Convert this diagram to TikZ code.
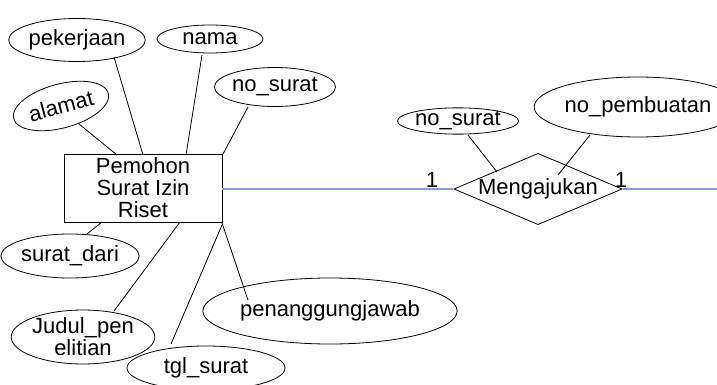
\documentclass[tikz,border=0pt]{standalone}
\usepackage{fontspec}
\setmainfont{Liberation Sans}
\usetikzlibrary{shapes.geometric}
\definecolor{relblue}{RGB}{130,160,215}
\tikzset{
  attr/.style={draw, ellipse, line width=0.8pt, inner sep=0pt, align=center,
    font=\fontsize{22}{22}\selectfont},
  ent/.style={draw, rectangle, line width=0.8pt, inner sep=0pt, align=center,
    minimum width=158pt, minimum height=68pt, font=\fontsize{22}{22}\selectfont},
  rel/.style={draw, diamond, line width=0.8pt, inner sep=0pt, aspect=2.36,
    font=\fontsize{22}{22}\selectfont},
  link/.style={line width=0.8pt, black},
  blueline/.style={line width=1.3pt, relblue},
  card/.style={font=\fontsize{22}{22}\selectfont, inner sep=0pt}
}
\begin{document}
\begin{tikzpicture}[x=1pt,y=-1pt]
\useasboundingbox (0,0) rectangle (717,385);
% entity
\node[ent] (pem) at (143,188) {Pemohon\\Surat Izin\\Riset};
% attributes
\node[attr, minimum width=131pt, minimum height=43pt] (pek) at (77,40) {pekerjaan};
\node[attr, minimum width=106pt, minimum height=28pt] (nama) at (210,39) {nama};
\node[attr, minimum width=106pt, minimum height=39pt] (nosL) at (275,87) {no\_surat};
\node[attr, minimum width=98pt, minimum height=44pt, rotate=15] (alm) at (61,106) {alamat};
\node[attr, minimum width=116pt, minimum height=44pt] (sd) at (70,256) {surat\_dari};
\node[attr, minimum width=120pt, minimum height=52pt] (jud) at (83,337) {Judul\_pen\\elitian};
\node[attr, minimum width=158pt, minimum height=44pt] (tgl) at (206,368) {tgl\_surat};
\node[attr, minimum width=207pt, minimum height=66pt] (pj) at (330,311) {penanggungjawab};
\node[attr, minimum width=107pt, minimum height=25pt] (nosR) at (458,121) {no\_surat};
\node[attr, minimum width=170pt, minimum height=60pt] (npb) at (638,107) {no\_pembuatan};
% relationship
\node[rel, minimum width=157pt, minimum height=67pt] (meng) at (538,189) {Mengajukan};
% connector end points
\coordinate (almE) at (79,124);   \coordinate (almS) at (117,155);
\coordinate (pekE) at (114,57);   \coordinate (pekS) at (143,155);
\coordinate (namE) at (202,55);   \coordinate (namS) at (186,155);
\coordinate (nosE) at (248,107);  \coordinate (nosS) at (223,154);
\coordinate (sdS) at (102,222);   \coordinate (sdE) at (87,234);
\coordinate (judS) at (180,222);  \coordinate (judE) at (114,311);
\coordinate (tglS) at (222,225);  \coordinate (tglE) at (171,344);
\coordinate (pjS) at (222,223);   \coordinate (pjE) at (248,300);
\coordinate (nrE) at (468,135);   \coordinate (nrS) at (497,172);
\coordinate (npE) at (590,135);   \coordinate (npS) at (558,175);
\coordinate (rightEnd) at (717,189);
% attribute links
\draw[link] (almE) -- (almS);
\draw[link] (pekE) -- (pekS);
\draw[link] (namE) -- (namS);
\draw[link] (nosE) -- (nosS);
\draw[link] (sdS) -- (sdE);
\draw[link] (judS) -- (judE);
\draw[link] (tglS) -- (tglE);
\draw[link] (pjS) -- (pjE);
\draw[link] (nrE) -- (nrS);
\draw[link] (npE) -- (npS);
% relationship lines
\draw[blueline] (pem.east |- meng.west) -- (meng.west);
\draw[blueline] (meng.east) -- (meng.east -| rightEnd);
\node[card] (c1) at (432,180) {1};
\node[card] (c2) at (621,180) {1};
\end{tikzpicture}
\end{document}
